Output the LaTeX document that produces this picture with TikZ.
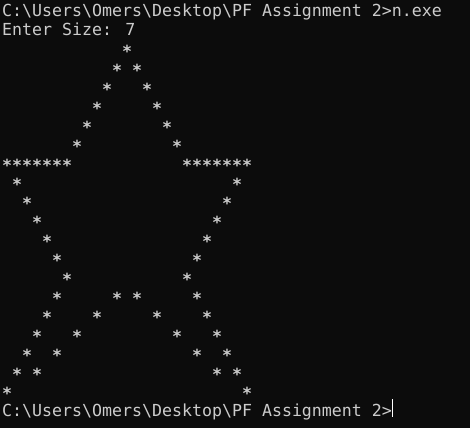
\documentclass[tikz,border=0pt]{standalone}
\usepackage{fontspec}
\newfontfamily\con{DejaVu Sans Mono}
\definecolor{bg}{HTML}{0C0C0C}
\definecolor{fg}{HTML}{CCCCCC}
\begin{document}
\begin{tikzpicture}[x=1pt,y=-1pt,
  line/.style={anchor=base west,inner sep=0pt,text=fg,font=\con\fontsize{16.6}{19}\selectfont},
  st/.style={anchor=base,inner sep=0pt,text=fg,font=\con\bfseries\fontsize{16.6}{19}\selectfont}]
\fill[bg] (0,0) rectangle (470,428);
\useasboundingbox (0,0) rectangle (470,428);
\node[line] (l0) at (2,17) {C:\textbackslash Users\textbackslash Omers\textbackslash Desktop\textbackslash PF Assignment 2>n.exe};
\node[line] (l1) at (2,36) {Enter Size: 7};
\foreach \r/\c in {2/12,3/11,3/13,4/10,4/14,5/9,5/15,6/8,6/16,7/7,7/17,
  8/0,8/1,8/2,8/3,8/4,8/5,8/6,8/18,8/19,8/20,8/21,8/22,8/23,8/24,
  9/1,9/23,10/2,10/22,11/3,11/21,12/4,12/20,13/5,13/19,14/6,14/18,
  15/5,15/11,15/13,15/19,16/4,16/9,16/15,16/20,17/3,17/7,17/17,17/21,
  18/2,18/5,18/19,18/22,19/1,19/3,19/21,19/23,20/0,20/24}
  \node[st] (s\r-\c) at (7+10*\c,19*\r+19) {*};
\node[line] (l21) at (2,416) {C:\textbackslash Users\textbackslash Omers\textbackslash Desktop\textbackslash PF Assignment 2>};
\coordinate (c1) at (392.5,399);
\coordinate (c2) at (392.5,417);
\draw[white,line width=1.2pt] (c1) -- (c2);
\end{tikzpicture}
\end{document}
